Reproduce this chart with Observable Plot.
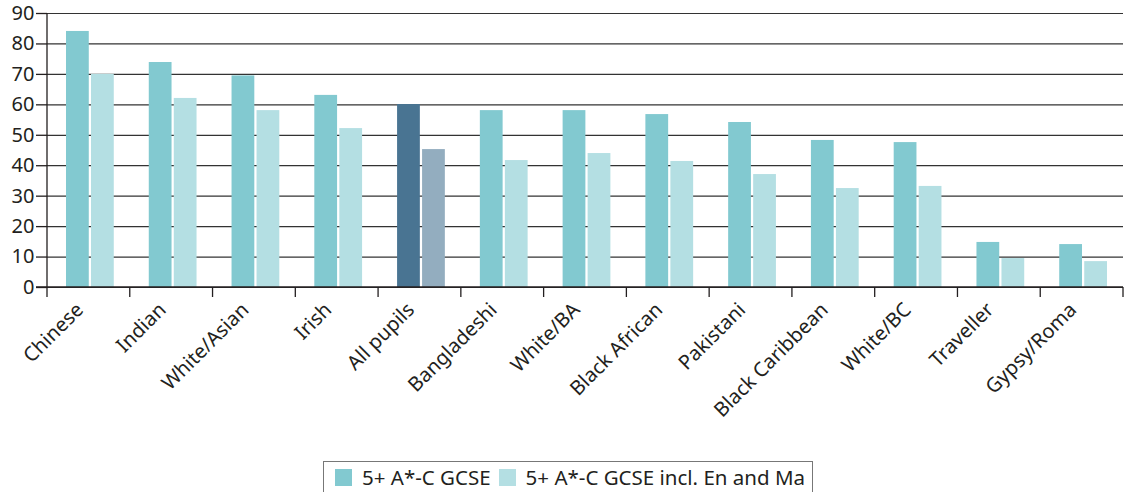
<!DOCTYPE html>
<html><head><meta charset="utf-8">
<script src="https://cdn.jsdelivr.net/npm/d3@7"></script>
<script src="https://cdn.jsdelivr.net/npm/@observablehq/plot@0.6"></script>
<style>
body{margin:0;background:#fff;font-family:"Noto Sans",sans-serif;color:#231f20}
#wrap{position:relative;width:1124px;height:492px;overflow:hidden}
#legend{position:absolute;left:323px;top:461px;width:490px;height:40px;border:1px solid #777;box-sizing:border-box;display:flex;align-items:flex-start;padding-top:1px;padding-left:11px;font-size:20.5px;white-space:nowrap}
.item{display:flex;align-items:center;margin-right:8px}
.sw{width:17px;height:17px;margin-right:10px}
#chart g[aria-label="y-axis tick label"]{font-size:20px !important}
#chart g[aria-label="x-axis tick label"]{font-size:20px !important}
</style>
</head><body><div id="wrap"><div id="chart"></div><div id="legend"></div></div>
<script>
const categories = ["Chinese","Indian","White/Asian","Irish","All pupils","Bangladeshi","White/BA","Black African","Pakistani","Black Caribbean","White/BC","Traveller","Gypsy/Roma"];
const gcse =     [84.1, 73.9, 69.5, 63.1, 60.1, 58.1, 58.1, 56.8, 54.2, 48.3, 47.6, 14.8, 14.1];
const gcseEnMa = [70.0, 62.1, 58.1, 52.2, 45.3, 41.7, 44.0, 41.4, 37.1, 32.5, 33.2, 9.5, 8.5];
const seriesNames = ["5+ A*-C GCSE", "5+ A*-C GCSE incl. En and Ma"];
const yTicks = [0,10,20,30,40,50,60,70,80,90];
const highlightCategory = "All pupils";

const colors = {normal: ["#82c9d0", "#b4dfe3"], highlight: ["#497492", "#93adbf"]};

const rows = [];
categories.forEach((c, i) => {
  rows.push({category: c, series: 0, value: gcse[i]});
  rows.push({category: c, series: 1, value: gcseEnMa[i]});
});
const fillOf = d => (d.category === highlightCategory ? colors.highlight : colors.normal)[d.series];

function axisLines(index, scales, values, dims) {
  const x = scales.x, y = scales.y;
  const bw = typeof x.bandwidth === "function" ? x.bandwidth() : x.bandwidth;
  const y0 = y(0);
  const g = d3.create("svg:g").attr("stroke", "#231f20").attr("stroke-width", 1.3);
  const xs = categories.map(c => x(c)).concat([x(categories[categories.length - 1]) + bw]);
  xs.forEach(px => g.append("line").attr("x1", px).attr("x2", px).attr("y1", y0).attr("y2", y0 + 10));
  const left = dims.marginLeft;
  g.append("line").attr("x1", left).attr("x2", left).attr("y1", y(90)).attr("y2", y0);
  g.append("line").attr("x1", left - 11).attr("x2", dims.width - dims.marginRight).attr("y1", y0).attr("y2", y0);
  return g.node();
}

const chart = Plot.plot({
  width: 1124,
  height: 455,
  marginLeft: 47,
  marginRight: 1,
  marginTop: 13,
  marginBottom: 168,
  style: {fontFamily: '"Noto Sans", sans-serif', color: "#231f20", background: "#fff"},
  x: {type: "band", domain: categories, padding: 0, round: false, label: null},
  y: {domain: [0, 90], label: null},
  marks: [
    Plot.gridY(yTicks, {stroke: "#333", strokeOpacity: 1, strokeWidth: 1.2}),
    Plot.barY(rows.filter(d => d.series === 0), {x: "category", y: "value", fill: fillOf, insetLeft: 19, insetRight: 41}),
    Plot.barY(rows.filter(d => d.series === 1), {x: "category", y: "value", fill: fillOf, insetLeft: 44, insetRight: 16}),
    Plot.axisY({ticks: yTicks, tickSize: 11, tickPadding: 2, fontSize: 20, stroke: "#231f20", strokeWidth: 1.3, label: null}),
    Plot.axisX({tickSize: 0, tickRotate: -45, tickPadding: 12, dx: -9, dy: 7, fontSize: 20, label: null}),
    axisLines
  ]
});
document.getElementById("chart").appendChild(chart);

const legend = document.getElementById("legend");
seriesNames.forEach((name, i) => {
  const it = document.createElement("div");
  it.className = "item";
  const sw = document.createElement("div");
  sw.className = "sw";
  sw.style.background = colors.normal[i];
  const t = document.createElement("span");
  t.textContent = name;
  it.appendChild(sw); it.appendChild(t);
  legend.appendChild(it);
});
</script>
</body></html>
